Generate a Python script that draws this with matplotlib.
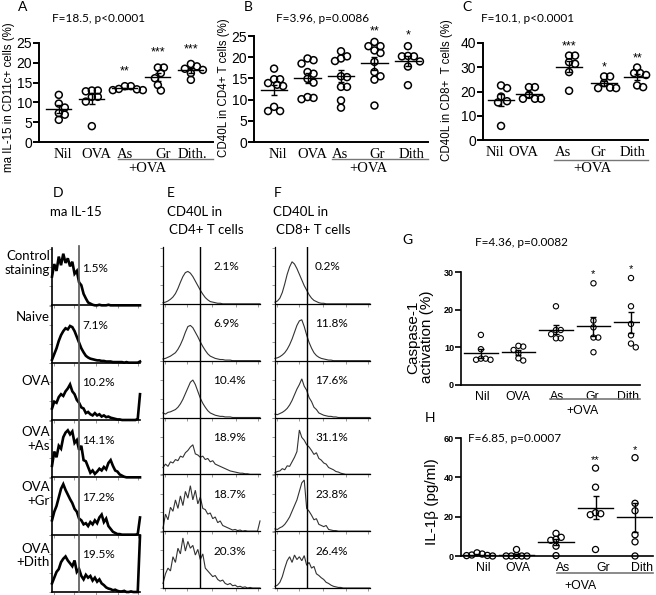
import numpy as np
import matplotlib
matplotlib.use("Agg")
import matplotlib.pyplot as plt
from matplotlib.lines import Line2D

# ---------------- data ----------------
cats_abc = ["Nil", "OVA", "As", "Gr", "Dith"]
cats_a = ["Nil", "OVA", "As", "Gr", "Dith."]

a_nil = [11.9, 9.7, 8.7, 7.3, 6.9, 5.6]
a_ova = [13.0, 13.0, 12.8, 11.4, 11.4, 10.2, 4.0]
a_as = [14.1, 13.4, 13.3, 14.1, 13.1, 13.1]
a_gr = [18.8, 18.8, 17.4, 16.1, 14.4, 13.0]
a_dith = [19.7, 19.1, 18.5, 18.2, 17.4, 15.7]
a_stars = ["", "", "**", "***", "***"]

b_nil = [17.3, 14.8, 14.8, 13.9, 13.2, 13.5, 8.3, 7.3, 7.3]
b_ova = [19.7, 19.3, 18.5, 16.5, 16.1, 14.9, 14.0, 10.6, 10.1, 10.4]
b_as = [21.4, 20.2, 19.7, 19.1, 15.5, 15.3, 13.0, 13.0, 9.8, 8.1]
b_gr = [23.6, 22.6, 22.6, 21.6, 21.0, 18.9, 16.5, 15.5, 14.7, 8.6]
b_dith = [22.6, 20.3, 20.2, 20.2, 19.0, 17.8, 13.4]
b_stars = ["", "", "", "**", "*"]

c_nil = [22.5, 21.4, 17.9, 16.0, 15.5, 5.8]
c_ova = [21.8, 21.8, 18.6, 17.0, 17.0, 17.0]
c_as = [34.8, 34.8, 32.1, 31.4, 28.0, 20.3]
c_gr = [26.2, 26.2, 23.5, 21.4, 21.4, 21.6]
c_dith = [29.9, 27.6, 27.6, 26.8, 21.8, 22.5]
c_stars = ["", "", "***", "*", "**"]

g_nil = [13.3, 9.5, 7.0, 6.7, 6.7, 7.0]
g_ova = [10.4, 9.3, 8.5, 10.2, 6.5, 7.1]
g_as = [20.9, 14.6, 14.6, 13.5, 12.4, 12.4]
g_gr = [27.0, 17.1, 15.3, 12.6, 12.6, 8.7]
g_dith = [28.4, 20.9, 16.2, 13.2, 11.0, 10.0]
g_stars = ["", "", "", "*", "*"]

h_nil = [0.0, 0.2, 0.3, 0.5, 1.0, 1.6]
h_ova = [0.0, 0.0, 0.0, 0.0, 0.2, 3.3]
h_as = [11.5, 9.5, 8.5, 8.0, 5.0, 0.2]
h_gr = [44.7, 35.0, 21.0, 21.5, 22.0, 3.3]
h_dith = [50.0, 26.8, 23.0, 10.8, 7.2, 0.0]
h_stars = ["", "", "", "**", "*"]

titles = ["F=18.5, p<0.0001", "F=3.96, p=0.0086", "F=10.1, p<0.0001",
          "F=4.36, p=0.0082", "F=6.85, p=0.0007"]

# flow histograms (% of panel height per bin)
d_labels = ["Control\nstaining", "Naive", "OVA", "OVA\n+As", "OVA\n+Gr", "OVA\n+Dith"]
d_pct = ["1.5%", "7.1%", "10.2%", "14.1%", "17.2%", "19.5%"]
e_pct = ["2.1%", "6.9%", "10.4%", "18.9%", "18.7%", "20.3%"]
f_pct = ["0.2%", "11.8%", "17.6%", "31.1%", "23.8%", "26.4%"]

d_hists = [
    [50, 72, 60, 85, 70, 90, 74, 82, 68, 76, 55, 60, 40, 35, 20, 12, 5, 3, 1, 0,
     0, 1, 0, 0, 0, 1, 0, 0, 0, 0, 0, 0, 0, 0, 0, 0, 0, 0, 0, 0],
    [5, 15, 25, 38, 48, 55, 60, 58, 64, 62, 55, 45, 35, 25, 18, 12, 9, 7, 6, 5,
     4, 4, 3, 3, 2, 2, 2, 1, 1, 1, 1, 1, 0, 1, 0, 0, 0, 0, 0, 2],
    [20, 32, 30, 40, 45, 42, 50, 55, 62, 50, 45, 35, 30, 22, 20, 12, 14, 10, 8, 12,
     8, 10, 6, 8, 5, 6, 4, 3, 2, 1, 1, 0, 0, 0, 0, 0, 0, 0, 2, 45],
    [20, 45, 35, 55, 50, 70, 78, 82, 75, 80, 60, 65, 48, 55, 30, 28, 18, 8, 12, 6,
     10, 15, 12, 18, 14, 25, 30, 20, 12, 10, 5, 3, 1, 0, 0, 0, 0, 0, 0, 0],
    [25, 40, 50, 65, 80, 88, 78, 70, 62, 55, 45, 40, 28, 25, 18, 20, 15, 22, 18, 25,
     20, 30, 35, 22, 28, 15, 10, 5, 3, 1, 1, 0, 0, 0, 0, 0, 0, 0, 1, 30],
    [15, 25, 35, 40, 52, 58, 62, 55, 50, 45, 55, 35, 40, 28, 22, 30, 25, 28, 20, 25,
     18, 22, 15, 12, 8, 6, 5, 3, 4, 2, 1, 1, 2, 0, 0, 1, 0, 0, 0, 98],
]
e_hists = [
    [2, 3, 5, 8, 12, 18, 27, 38, 48, 55, 57, 54, 48, 40, 32, 24, 17, 11, 7, 4,
     3, 2, 1, 1, 0, 0, 0, 0, 0, 0, 0, 0, 0, 0, 0, 0, 0, 0, 0, 0],
    [3, 4, 6, 8, 11, 14, 20, 28, 38, 50, 60, 62, 58, 50, 42, 33, 25, 18, 12, 8,
     6, 4, 3, 2, 2, 1, 1, 1, 0, 0, 0, 0, 0, 0, 0, 0, 0, 0, 0, 0],
    [8, 6, 9, 10, 12, 14, 18, 24, 32, 42, 52, 62, 66, 58, 46, 34, 25, 18, 12, 8,
     6, 4, 3, 2, 2, 1, 1, 1, 0, 0, 0, 0, 0, 0, 0, 0, 0, 0, 0, 0],
    [12, 18, 14, 22, 20, 26, 24, 32, 30, 38, 42, 48, 52, 36, 34, 30, 32, 26, 28, 22,
     24, 18, 16, 14, 12, 10, 8, 6, 5, 4, 3, 2, 2, 1, 1, 0, 0, 0, 0, 0],
    [5, 30, 20, 42, 35, 55, 40, 62, 45, 70, 58, 80, 55, 72, 48, 60, 40, 38, 30, 32,
     22, 25, 15, 18, 10, 8, 6, 4, 2, 3, 1, 2, 0, 1, 0, 0, 0, 0, 0, 18],
    [8, 25, 35, 30, 55, 45, 70, 60, 88, 65, 82, 70, 75, 58, 68, 50, 60, 35, 30, 25,
     20, 22, 15, 12, 14, 8, 6, 8, 4, 5, 2, 3, 1, 2, 0, 1, 0, 0, 0, 0],
]
f_hists = [
    [3, 5, 10, 20, 35, 52, 65, 74, 70, 62, 52, 42, 32, 24, 16, 10, 6, 4, 2, 1,
     1, 0, 0, 0, 0, 0, 0, 0, 0, 0, 0, 0, 0, 0, 0, 0, 0, 0, 0, 0],
    [4, 5, 7, 10, 14, 20, 28, 38, 50, 62, 70, 72, 60, 45, 32, 22, 14, 9, 6, 4,
     3, 2, 1, 1, 0, 0, 0, 0, 0, 0, 0, 0, 0, 0, 0, 0, 0, 0, 0, 0],
    [6, 5, 7, 9, 12, 16, 22, 30, 40, 50, 58, 68, 55, 48, 35, 28, 18, 14, 8, 6,
     4, 3, 2, 2, 1, 1, 0, 0, 0, 0, 0, 0, 0, 0, 0, 0, 0, 0, 0, 0],
    [3, 5, 6, 10, 8, 15, 14, 22, 30, 40, 78, 65, 60, 52, 48, 42, 35, 38, 28, 25,
     20, 18, 12, 10, 8, 5, 4, 2, 1, 0, 0, 0, 0, 0, 0, 0, 0, 0, 0, 0],
    [4, 3, 6, 8, 12, 18, 25, 35, 45, 55, 70, 85, 90, 40, 35, 28, 20, 22, 12, 10,
     8, 10, 3, 2, 1, 1, 0, 0, 0, 0, 0, 0, 0, 0, 0, 0, 0, 0, 0, 0],
    [3, 5, 10, 20, 35, 48, 55, 45, 58, 50, 55, 48, 57, 40, 45, 35, 38, 25, 22, 18,
     15, 10, 8, 5, 3, 2, 1, 1, 0, 0, 0, 0, 0, 0, 0, 0, 0, 0, 0, 0],
]

# ---------------- layout helpers ----------------
W, H = 656, 595
fig = plt.figure(figsize=(6.56, 5.95), dpi=100)
ARIAL = "Liberation Sans"
TIMES = "Liberation Serif"
CALI = "Lato"


def ax_px(x0, y0, x1, y1):
    return fig.add_axes([x0 / W, 1 - y1 / H, (x1 - x0) / W, (y1 - y0) / H])


def ftext(x, y, s, **kw):
    kw.setdefault("family", CALI)
    return fig.text(x / W, 1 - y / H, s, **kw)


def fline(x0, x1, y0, y1, **kw):
    fig.add_artist(Line2D([x0 / W, x1 / W], [1 - y0 / H, 1 - y1 / H], **kw))


def swarm(vals, sx, sy, d):
    order = np.argsort(-vals, kind="stable")
    placed = []
    offs = np.zeros(len(vals))
    cands = [0.0]
    for k in range(1, 30):
        cands += [k * d * 0.5, -k * d * 0.5]
    for i in order:
        y = vals[i] * sy
        for cx in cands:
            if all((cx - px) ** 2 + (y - py) ** 2 >= d * d for px, py in placed):
                break
        placed.append((cx, y))
        offs[i] = cx / sx
    return offs


def dot_panel(ax, groups, centers, xlim, ylim, yticks, mean_hw, cap, ms, mlw,
              dsep, stars, star_off, star_fs, lab_x, labels, lab_font, lab_fs,
              num_fs, num_bold, spine_lw):
    ax.set_xlim(xlim)
    ax.set_ylim(ylim)
    pos = ax.get_position()
    sx = pos.width * W / (xlim[1] - xlim[0])
    sy = pos.height * H / (ylim[1] - ylim[0])
    for vals, c, st in zip(groups, centers, stars):
        v = np.asarray(vals, float)
        offs = swarm(v, sx, sy, dsep)
        ax.scatter(c + offs, v, s=ms ** 2, facecolors="none", edgecolors="k",
                   linewidths=mlw, zorder=3, clip_on=False)
        m = v.mean()
        se = v.std(ddof=1) / np.sqrt(len(v))
        ax.plot([c - mean_hw, c + mean_hw], [m, m], color="k", lw=1.0, zorder=2)
        ax.errorbar([c], [m], yerr=[se], color="k", lw=1.0, capsize=cap,
                    capthick=1.0, zorder=2)
        if st:
            ax.text(c, v.max() + star_off, st, ha="center", va="bottom",
                    fontsize=star_fs, family=ARIAL)
    for s in ["top", "right"]:
        ax.spines[s].set_visible(False)
    for s in ["left", "bottom"]:
        ax.spines[s].set_linewidth(spine_lw)
    ax.set_yticks(yticks)
    ax.set_yticklabels([str(t) for t in yticks], family=ARIAL, fontsize=num_fs,
                       fontweight="bold" if num_bold else "normal")
    ax.tick_params(axis="y", direction="out", length=4, width=spine_lw, pad=1)
    ax.set_xticks(lab_x)
    ax.set_xticklabels(labels, family=lab_font, fontsize=lab_fs)
    ax.tick_params(axis="x", length=0, pad=4)
    ax.patch.set_alpha(0)


# ---------------- panel A ----------------
axA = ax_px(39, 43, 213, 142)
dot_panel(axA, [a_nil, a_ova, a_as, a_gr, a_dith], [0, 1, 2, 3, 4], (-0.6, 4.67),
          (0, 25), [0, 5, 10, 15, 20, 25], 0.38, 2.5, 5.0, 1.1, 6.0,
          a_stars, 2.2, 9, [0.12, 1.15, 2.0, 3.15, 4.05], cats_a, TIMES, 10.5,
          10, False, 1.4)
ftext(99, 19, titles[0], ha="center", va="center", fontsize=8.5)
ftext(23, 7, "A", ha="center", va="center", fontsize=10)
ftext(9, 97, "ma IL-15 in CD11c+ cells (%)", ha="center", va="center",
      rotation=90, fontsize=8.3, family=ARIAL)
fline(118, 213, 159, 159, color="#777777", lw=1.0)
ftext(147, 168, "+OVA", ha="center", va="center", fontsize=10.5, family=TIMES)

# ---------------- panel B ----------------
axB = ax_px(254, 36, 428, 142)
dot_panel(axB, [b_nil, b_ova, b_as, b_gr, b_dith], [0, 1, 2, 3, 4], (-0.6, 4.6),
          (0, 25), [0, 5, 10, 15, 20, 25], 0.4, 2.5, 5.0, 1.1, 6.0,
          b_stars, 1.0, 9, [0.12, 1.13, 1.97, 3.07, 4.12], cats_abc, TIMES, 10.5,
          10, False, 1.4)
ftext(323, 19, titles[1], ha="center", va="center", fontsize=8.5)
ftext(248, 7, "B", ha="center", va="center", fontsize=10)
ftext(224, 88, "CD40L in CD4+ T cells (%)", ha="center", va="center",
      rotation=90, fontsize=8.3, family=ARIAL)
fline(332, 428, 159, 159, color="#777777", lw=1.0)
ftext(368, 168, "+OVA", ha="center", va="center", fontsize=10.5, family=TIMES)

# ---------------- panel C ----------------
axC = ax_px(483, 43, 648, 140)
dot_panel(axC, [c_nil, c_ova, c_as, c_gr, c_dith], [0, 0.82, 2, 3.03, 4],
          (-0.53, 4.32), (0, 40), [0, 10, 20, 30, 40], 0.38, 2.5, 5.0, 1.1, 6.0,
          c_stars, 1.2, 9, [-0.18, 0.65, 1.82, 2.85, 3.88], cats_abc, TIMES, 10.5,
          10, False, 1.4)
ftext(528, 19, titles[2], ha="center", va="center", fontsize=8.5)
ftext(467, 7, "C", ha="center", va="center", fontsize=10)
ftext(447, 90, "CD40L in CD8+  T cells (%)", ha="center", va="center",
      rotation=90, fontsize=8.3, family=ARIAL)
fline(554, 648, 160, 160, color="#777777", lw=1.0)
ftext(592, 169, "+OVA", ha="center", va="center", fontsize=10.5, family=TIMES)

# ---------------- panel G ----------------
axG = ax_px(461, 272, 640, 385)
dot_panel(axG, [g_nil, g_ova, g_as, g_gr, g_dith], [0, 1, 2, 3, 4],
          (-0.53, 4.24), (0, 30), [0, 10, 20, 30], 0.45, 2.5, 3.8, 0.8, 4.8,
          g_stars, 1.0, 8, [0.05, 0.99, 2.03, 2.96, 3.92],
          ["Nil", "OVA", "As", "Gr", "Dith"], ARIAL, 8.8, 6.5, True, 1.2)
ftext(521, 242, titles[3], ha="center", va="center", fontsize=8.5)
ftext(407, 240, "G", ha="center", va="center", fontsize=10)
ftext(420, 337, "Caspase-1\nactivation (%)", ha="center", va="center",
      rotation=90, fontsize=11, family=ARIAL, linespacing=1.0)
fline(550, 640, 399, 399, color="#777777", lw=1.2)
ftext(582, 411, "+OVA", ha="center", va="center", fontsize=8.8, family=ARIAL)

# ---------------- panel H ----------------
axH = ax_px(461, 438, 653, 556)
dot_panel(axH, [h_nil, h_ova, h_as, h_gr, h_dith], [0, 1, 2, 3, 4],
          (-0.405, 4.455), (0, 60), [0, 20, 40, 60], 0.45, 2.5, 4.4, 0.9, 5.2,
          h_stars, 1.5, 8, [0.15, 1.04, 2.18, 3.19, 4.18],
          ["Nil", "OVA", "As", "Gr", "Dith"], ARIAL, 8.8, 6.5, True, 1.2)
ftext(468, 438, titles[4], ha="left", va="center", fontsize=8.5)
ftext(430, 418, "H", ha="center", va="center", fontsize=10)
ftext(432, 502, "IL-1\u03b2 (pg/ml)", ha="center", va="center",
      rotation=90, fontsize=11, family=ARIAL)
fline(557, 653, 573, 573, color="#777777", lw=1.2)
ftext(580, 586, "+OVA", ha="center", va="center", fontsize=8.8, family=ARIAL)


# ---------------- flow histograms ----------------
def hist_column(x0, x1, top, bottom, hists, pcts, pct_x, lw, color, gate_x,
                per_panel_gate, spine_lw):
    n = len(hists)
    rh = (bottom - top) / n
    gf = (gate_x - x0) / (x1 - x0)
    for i, (h, p) in enumerate(zip(hists, pcts)):
        t = top + i * rh
        ax = ax_px(x0, t, x1, t + rh)
        x = np.linspace(0, 1, len(h))
        ax.plot(x, h, color=color, lw=lw, clip_on=False, solid_joinstyle="miter")
        ax.set_xlim(0, 1)
        ax.set_ylim(0, 100)
        for s in ["top", "right"]:
            ax.spines[s].set_visible(False)
        for s in ["left", "bottom"]:
            ax.spines[s].set_linewidth(spine_lw)
        ax.set_xticks([0.02, 0.25, 0.5, 0.75, 0.98])
        ax.set_yticks([0, 33, 66, 99])
        ax.tick_params(length=2, width=0.6, labelbottom=False, labelleft=False,
                       colors="#888888")
        ax.patch.set_alpha(0)
        if per_panel_gate:
            ax.axvline(gf, color="k", lw=1.0)
        ftext(pct_x, t + 20, p, ha="left", va="center", fontsize=8.5)
    return rh


rh = hist_column(52, 140, 248, 592, d_hists, d_pct, 82, 1.9, "k", 79, False, 1.2)
fline(79, 79, 246, 592, color="#555555", lw=1.2)
ftext(53, 193, "D", ha="left", va="center", fontsize=10)
ftext(50, 212, "ma IL-15", ha="left", va="center", fontsize=9.5)
d_lab_off = [2, 6, 12, 6, 4, 8]
for i, (lab, off) in enumerate(zip(d_labels, d_lab_off)):
    ftext(50, 248 + i * rh + off, lab, ha="right", va="top", fontsize=9.5,
          linespacing=1.15)

hist_column(163, 260, 247, 588, e_hists, e_pct, 213, 0.8, "#333333", 200, True, 0.9)
ftext(167, 193, "E", ha="left", va="center", fontsize=10)
ftext(167, 212, "CD40L in", ha="left", va="center", fontsize=9.5)
ftext(169, 230, "CD4+ T cells", ha="left", va="center", fontsize=9.5)

hist_column(275, 370, 247, 588, f_hists, f_pct, 315, 0.8, "#333333", 307, True, 0.9)
ftext(274, 193, "F", ha="left", va="center", fontsize=10)
ftext(273, 212, "CD40L in", ha="left", va="center", fontsize=9.5)
ftext(276, 230, "CD8+ T cells", ha="left", va="center", fontsize=9.5)

fig.savefig("out.png", dpi=100)
